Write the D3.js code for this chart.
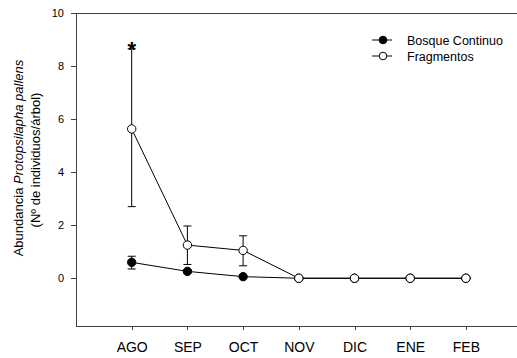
<!DOCTYPE html>
<html>
<head>
<meta charset="utf-8">
<script src="https://cdn.jsdelivr.net/npm/d3@7"></script>
<style>
  html, body { margin: 0; padding: 0; background: #fff; }
  svg { display: block; font-family: Arial, "Liberation Sans", sans-serif; }
</style>
</head>
<body>
<svg id="chart" width="517" height="358"></svg>
<script>
// Monthly abundance of Protopsilapha pallens per tree
const months = ["AGO", "SEP", "OCT", "NOV", "DIC", "ENE", "FEB"];
const bosqueMean = [0.60, 0.26, 0.06, 0, 0, 0, 0];
const bosqueLow  = [0.35, 0.19, 0.06, 0, 0, 0, 0];
const bosqueHigh = [0.83, 0.33, 0.06, 0, 0, 0, 0];
const fragMean = [5.63, 1.25, 1.05, 0, 0, 0, 0];
const fragLow  = [2.70, 0.52, 0.47, 0, 0, 0, 0];
const fragHigh = [8.65, 1.97, 1.60, 0, 0, 0, 0];
const yTicks = [0, 2, 4, 6, 8, 10];
const seriesNames = ["Bosque Continuo", "Fragmentos"];

const svg = d3.select("#chart");
const plotLeft = 76, plotTop = 13, plotBottom = 326, step = 55.7;

const x = d3.scaleLinear().domain([-1, 7]).range([plotLeft, plotLeft + 8 * step]);
const y = d3.scaleLinear().domain([-1.8, 10]).range([plotBottom, plotTop]);

const axisColor = "#404040";
const fontFamily = "Arial, 'Liberation Sans', sans-serif";

// Frame: top line across the plot
svg.append("line")
  .attr("x1", plotLeft).attr("x2", 517).attr("y1", plotTop).attr("y2", plotTop)
  .attr("stroke", axisColor).attr("stroke-width", 1).attr("shape-rendering", "crispEdges");

// Y axis
const yAxis = svg.append("g")
  .attr("transform", `translate(${plotLeft},0)`)
  .call(d3.axisLeft(y).tickValues(yTicks).tickFormat(d3.format("d")).tickSize(5).tickPadding(7));
yAxis.select(".domain").attr("d", `M0,${plotBottom}V${plotTop}`);
yAxis.selectAll("text").attr("font-size", 11);

// X axis
const xAxis = svg.append("g")
  .attr("transform", `translate(0,${plotBottom})`)
  .call(d3.axisBottom(x).tickValues(d3.range(months.length)).tickFormat(i => months[i]).tickSize(4).tickPadding(12));
xAxis.select(".domain").attr("d", `M${plotLeft},0H517`);
xAxis.selectAll("text").attr("font-size", 14);

[yAxis, xAxis].forEach(a => {
  a.selectAll(".domain, .tick line").attr("stroke", axisColor).attr("shape-rendering", "crispEdges");
  a.selectAll("text").attr("fill", "#000").attr("font-family", fontFamily);
});

// Y axis title
const title = svg.append("text")
  .attr("transform", `translate(22.5,158) rotate(-90)`)
  .attr("text-anchor", "middle")
  .attr("font-size", 13);
title.append("tspan").text("Abundancia ");
title.append("tspan").attr("font-style", "italic").text("Protopsilapha pallens");
svg.append("text")
  .attr("transform", `translate(39.5,160) rotate(-90)`)
  .attr("text-anchor", "middle")
  .attr("font-size", 13)
  .text("(N\u00ba de individuos/\u00e1rbol)");

const line = d3.line().x((d, i) => x(i)).y(d => y(d));

function drawSeries(mean, low, high, fill) {
  const g = svg.append("g");
  g.append("path").datum(mean).attr("d", line)
    .attr("fill", "none").attr("stroke", "#000").attr("stroke-width", 1);
  const eb = g.append("g").attr("stroke", "#000").attr("stroke-width", 1);
  mean.forEach((m, i) => {
    if (high[i] - low[i] < 0.01) return;
    const cx = x(i);
    eb.append("line").attr("x1", cx).attr("x2", cx).attr("y1", y(low[i])).attr("y2", y(high[i]));
    eb.append("line").attr("x1", cx - 4).attr("x2", cx + 4).attr("y1", y(high[i])).attr("y2", y(high[i]));
    eb.append("line").attr("x1", cx - 4).attr("x2", cx + 4).attr("y1", y(low[i])).attr("y2", y(low[i]));
  });
  g.selectAll("circle").data(mean).join("circle")
    .attr("cx", (d, i) => x(i)).attr("cy", d => y(d)).attr("r", 4.2)
    .attr("fill", fill).attr("stroke", "#000").attr("stroke-width", 1);
}

drawSeries(bosqueMean, bosqueLow, bosqueHigh, "#000");
drawSeries(fragMean, fragLow, fragHigh, "#fff");

// Significance mark above August
svg.append("text")
  .attr("x", x(0)).attr("y", y(fragHigh[0]) + 8.5)
  .attr("text-anchor", "middle")
  .attr("font-size", 22).attr("font-weight", "bold")
  .text("*");

// Legend
const legend = svg.append("g");
seriesNames.forEach((name, i) => {
  const ly = 40 + i * 16;
  legend.append("line").attr("x1", 372).attr("x2", 392).attr("y1", ly).attr("y2", ly)
    .attr("stroke", "#000").attr("stroke-width", 1);
  legend.append("circle").attr("cx", 383).attr("cy", ly).attr("r", 3.8)
    .attr("fill", i === 0 ? "#000" : "#fff").attr("stroke", "#000");
  legend.append("text").attr("x", 407).attr("y", ly + 4.5)
    .attr("font-size", 12.5).text(name);
});
</script>
</body>
</html>
